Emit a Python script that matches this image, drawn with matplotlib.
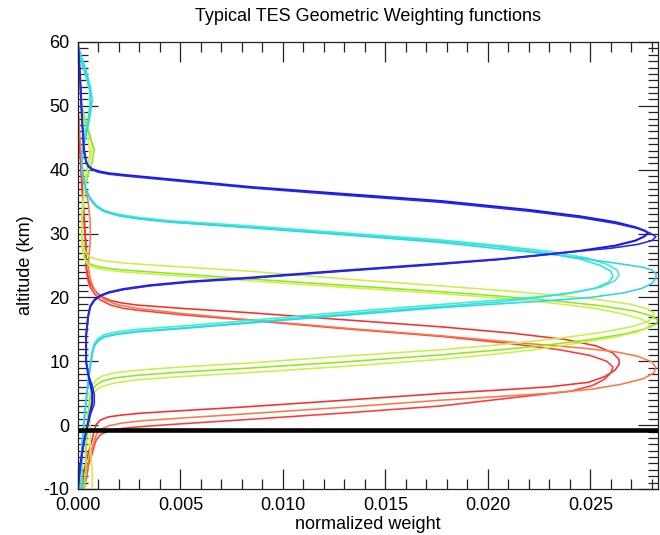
import matplotlib
matplotlib.use("Agg")
import matplotlib.pyplot as plt
from matplotlib.ticker import MultipleLocator, FormatStrFormatter

plt.rcParams["font.family"] = ["Liberation Sans", "DejaVu Sans"]
plt.rcParams["axes.unicode_minus"] = False

# Weighting functions: normalized weight (w) against altitude in km (z), sampled top to bottom

# Blue pair, peak near 30 km
blue_a_w = [0.0, 0.0001, 0.0002, 0.0003, 0.0004, 0.0005, 0.0007, 0.0010, 0.0015, 0.0022, 0.0030,
            0.0084, 0.0130, 0.0177, 0.0220, 0.0245, 0.0262, 0.0272, 0.0277, 0.0278, 0.0276, 0.0272,
            0.0262, 0.0245, 0.0225, 0.0206, 0.0177, 0.0125, 0.0080, 0.0055, 0.0035, 0.0022, 0.0015,
            0.0011, 0.0008, 0.0006, 0.0005, 0.0004, 0.0004, 0.0005, 0.0006, 0.0007, 0.0007, 0.0006,
            0.0005, 0.0003, 0.0001, 0.0]
blue_a_z = [60, 55, 48, 43, 41.3, 40.6, 40.1, 39.75, 39.45, 39.2, 38.95,
            37.3, 36.2, 35.1, 33.7, 32.7, 31.8, 31.0, 30.4, 30.0, 29.5, 28.9,
            28.1, 27.3, 26.6, 26.0, 25.3, 24.1, 23.0, 22.5, 21.9, 21.3, 20.8,
            20.3, 19.6, 18.6, 17, 14, 10, 8, 6.5, 5, 3.5, 2,
            0.5, -2.5, -6.5, -10]

blue_b_w = [0.0, 0.0001, 0.0002, 0.0003, 0.0004, 0.0005, 0.0007, 0.0010, 0.0015, 0.0022, 0.0030,
            0.0084, 0.0130, 0.0177, 0.0220, 0.0245, 0.0262, 0.0273, 0.0279, 0.0282, 0.0280, 0.0273,
            0.0260, 0.0240, 0.0222, 0.0206, 0.0177, 0.0125, 0.0080, 0.0055, 0.0035, 0.0022, 0.0015,
            0.0011, 0.0008, 0.0006, 0.0005, 0.0004, 0.0004, 0.0005, 0.0007, 0.0008, 0.0008, 0.0006,
            0.0005, 0.0003, 0.0001, 0.0]
blue_b_z = [60, 55, 48, 43, 41.2, 40.5, 40.0, 39.6, 39.3, 39.05, 38.8,
            37.15, 36.0, 34.9, 33.5, 32.5, 31.6, 30.8, 30.1, 29.5, 28.9, 28.3,
            27.7, 27.1, 26.5, 25.95, 25.2, 24.0, 22.9, 22.4, 21.8, 21.2, 20.7,
            20.2, 19.5, 18.5, 17, 14, 10, 8, 6.2, 4.8, 3.3, 1.6,
            0.2, -2.7, -6.8, -10]

# Cyan trio, peak near 23-24 km
teal_a_w = [0.0, 0.0002, 0.0004, 0.0006, 0.0006, 0.0005, 0.0003, 0.0002, 0.0002, 0.0003, 0.0004,
            0.0006, 0.0009, 0.0013, 0.0020, 0.0030, 0.0045, 0.0084, 0.0130, 0.0177, 0.0206, 0.0230,
            0.0248, 0.0258, 0.0263, 0.0264, 0.0262, 0.0255, 0.0242, 0.0225, 0.0206, 0.0177, 0.0130,
            0.0084, 0.0050, 0.0029, 0.0019, 0.0013, 0.0010, 0.0008, 0.0007, 0.0006, 0.0005, 0.0004,
            0.0003, 0.0002, 0.0001, 0.0001]
teal_a_z = [59, 57, 55, 52.5, 50.5, 48, 45, 42, 40, 38.2, 36.8,
            35.5, 34.4, 33.6, 33.0, 32.5, 32.0, 31.2, 30.1, 29.0, 28.1, 27.2,
            26.2, 25.2, 24.3, 23.5, 22.6, 21.6, 20.8, 20.1, 19.6, 18.9, 17.7,
            16.4, 15.5, 15.0, 14.6, 14.2, 13.6, 12.8, 11.5, 9.5, 7, 4,
            1, -3, -8, -10]

teal_b_w = [0.0, 0.0002, 0.0004, 0.0006, 0.0006, 0.0005, 0.0003, 0.0002, 0.0002, 0.0003, 0.0004,
            0.0006, 0.0009, 0.0013, 0.0020, 0.0030, 0.0045, 0.0084, 0.0130, 0.0177, 0.0206, 0.0228,
            0.0245, 0.0255, 0.0260, 0.0261, 0.0259, 0.0252, 0.0239, 0.0222, 0.0206, 0.0177, 0.0130,
            0.0084, 0.0050, 0.0029, 0.0019, 0.0013, 0.0010, 0.0008, 0.0007, 0.0006, 0.0005, 0.0004,
            0.0003, 0.0002, 0.0002, 0.0002]
teal_b_z = [58.5, 56.5, 54.5, 52, 50, 47.5, 44.5, 41.5, 39.7, 38.0, 36.6,
            35.3, 34.2, 33.4, 32.8, 32.3, 31.8, 31.0, 29.9, 28.8, 27.9, 27.0,
            26.0, 25.0, 24.1, 23.3, 22.4, 21.4, 20.6, 19.9, 19.3, 18.6, 17.4,
            16.1, 15.2, 14.7, 14.3, 13.9, 13.3, 12.5, 11.2, 9.2, 6.7, 3.7,
            0.7, -3.3, -8, -10]

cyan_c_w = [0.0, 0.0002, 0.0004, 0.0006, 0.0007, 0.0006, 0.0004, 0.0002, 0.0002, 0.0003, 0.0004,
            0.0006, 0.0009, 0.0013, 0.0020, 0.0030, 0.0045, 0.0084, 0.0130, 0.0177, 0.0206, 0.0235,
            0.0255, 0.0268, 0.0276, 0.0280, 0.0282, 0.0282, 0.0280, 0.0275, 0.0266, 0.0250, 0.0230,
            0.0206, 0.0177, 0.0130, 0.0084, 0.0050, 0.0029, 0.0019, 0.0013, 0.0010, 0.0008, 0.0007,
            0.0006, 0.0005, 0.0004, 0.0003, 0.0002, 0.0001, 0.0001]
cyan_c_z = [59.5, 57.5, 55.5, 53, 51, 48.5, 45.5, 42.3, 40.3, 38.4, 36.9,
            35.6, 34.3, 33.5, 32.8, 32.3, 31.8, 30.9, 29.8, 28.6, 27.6, 26.6,
            25.7, 25.1, 24.7, 24.3, 23.7, 23.0, 22.2, 21.4, 20.7, 20.0, 19.5,
            19.0, 18.4, 17.2, 16.0, 15.1, 14.6, 14.2, 13.8, 13.2, 12.4, 11.1,
            9.0, 6.5, 3.5, 0.3, -3.5, -8, -10]

# Green trio, peak near 15-17 km
ygreen_a_w = [0.0, 0.0001, 0.0002, 0.0004, 0.0006, 0.0007, 0.0006, 0.0004, 0.0003, 0.0002, 0.0002,
              0.0003, 0.0004, 0.0006, 0.0010, 0.0015, 0.0022, 0.0035, 0.0084, 0.0130, 0.0177, 0.0206,
              0.0235, 0.0255, 0.0270, 0.0278, 0.0281, 0.0281, 0.0278, 0.0270, 0.0255, 0.0235, 0.0206,
              0.0177, 0.0130, 0.0082, 0.0050, 0.0029, 0.0018, 0.0012, 0.0009, 0.0007, 0.0006, 0.0005,
              0.0004, 0.0004, 0.0003]
ygreen_a_z = [58, 54, 50, 47.5, 45.5, 43.5, 41.5, 39.5, 37, 33, 29.5,
              27.6, 26.9, 26.3, 25.9, 25.65, 25.4, 25.1, 24.1, 22.9, 21.8, 21.1,
              20.3, 19.6, 18.9, 18.2, 17.5, 16.9, 16.2, 15.4, 14.5, 13.6, 12.6,
              11.8, 10.8, 9.7, 9.1, 8.6, 8.2, 7.7, 7.1, 6.3, 5.0, 2,
              -3, -7, -10]

lime_b_w = [0.0, 0.0001, 0.0002, 0.0004, 0.0006, 0.0008, 0.0007, 0.0005, 0.0003, 0.0002, 0.0002,
            0.0003, 0.0004, 0.0006, 0.0010, 0.0015, 0.0022, 0.0035, 0.0084, 0.0130, 0.0177, 0.0206,
            0.0235, 0.0255, 0.0271, 0.0280, 0.0283, 0.0282, 0.0277, 0.0267, 0.0250, 0.0228, 0.0206,
            0.0177, 0.0130, 0.0082, 0.0050, 0.0029, 0.0018, 0.0012, 0.0009, 0.0007, 0.0006, 0.0005,
            0.0004, 0.0004, 0.0003]
lime_b_z = [57.5, 53.5, 49.5, 47, 45, 43.2, 41.2, 39.3, 36.5, 32.5, 28.5,
            26.5, 25.8, 25.2, 24.8, 24.55, 24.3, 24.0, 22.9, 21.9, 20.9, 20.2,
            19.4, 18.7, 17.9, 17.1, 16.4, 15.8, 15.1, 14.3, 13.4, 12.5, 11.8,
            11.0, 9.9, 8.9, 8.3, 7.8, 7.4, 6.9, 6.3, 5.5, 4.2, 1.5,
            -3.5, -7, -10]

ygreen_c_w = [0.0, 0.0001, 0.0002, 0.0003, 0.0005, 0.0006, 0.0005, 0.0004, 0.0003, 0.0002, 0.0002,
              0.0003, 0.0004, 0.0006, 0.0010, 0.0015, 0.0022, 0.0035, 0.0084, 0.0130, 0.0177, 0.0206,
              0.0232, 0.0252, 0.0266, 0.0275, 0.0279, 0.0278, 0.0273, 0.0262, 0.0245, 0.0225, 0.0206,
              0.0177, 0.0130, 0.0082, 0.0050, 0.0029, 0.0018, 0.0012, 0.0009, 0.0007, 0.0006, 0.0006,
              0.0006, 0.0007, 0.0007]
ygreen_c_z = [57, 53, 49, 46.5, 44.5, 42.8, 41, 39, 36, 32, 28,
              26.2, 25.5, 24.9, 24.5, 24.25, 24.0, 23.7, 22.6, 21.6, 20.6, 19.9,
              19.1, 18.3, 17.4, 16.6, 15.9, 15.3, 14.6, 13.8, 12.9, 11.9, 11.2,
              10.3, 9.2, 8.2, 7.6, 7.1, 6.6, 6.1, 5.5, 4.7, 3.2, 0.5,
              -3.5, -7, -10]

# Red/orange trio, peak near 8-10 km
red_a_w = [0.0, 0.0001, 0.0002, 0.0003, 0.0004, 0.0004, 0.0005, 0.0006, 0.0008, 0.0011, 0.0016,
           0.0022, 0.0029, 0.0050, 0.0084, 0.0130, 0.0177, 0.0212, 0.0238, 0.0253, 0.0261, 0.0264,
           0.0264, 0.0262, 0.0257, 0.0249, 0.0230, 0.0206, 0.0177, 0.0130, 0.0079, 0.0050, 0.0032,
           0.0022, 0.0015, 0.0011, 0.0009, 0.0008, 0.0007, 0.0005, 0.0003, 0.0002]
red_a_z = [50, 44, 38, 33, 28, 25, 23.2, 22.2, 21.2, 20.2, 19.5,
           19.1, 18.8, 18.3, 17.6, 16.5, 15.4, 14.4, 13.4, 12.4, 11.3, 10.3,
           9.5, 8.6, 7.6, 6.7, 6.0, 5.5, 4.95, 3.9, 2.8, 2.25, 1.9,
           1.6, 1.3, 0.8, 0.1, -0.8, -2.2, -4.5, -7.0, -10]

red_b_w = [0.0, 0.0001, 0.0002, 0.0003, 0.0004, 0.0004, 0.0005, 0.0006, 0.0008, 0.0011, 0.0016,
           0.0022, 0.0029, 0.0050, 0.0084, 0.0130, 0.0177, 0.0210, 0.0235, 0.0250, 0.0258, 0.0261,
           0.0260, 0.0257, 0.0251, 0.0240, 0.0215, 0.0177, 0.0130, 0.0079, 0.0050, 0.0032, 0.0022,
           0.0015, 0.0011, 0.0009, 0.0008, 0.0007, 0.0005, 0.0004, 0.0003]
red_b_z = [49, 43, 37, 32, 27, 24.5, 22.6, 21.6, 20.6, 19.6, 18.8,
           18.3, 18.0, 17.3, 16.4, 15.1, 13.9, 12.8, 11.8, 10.9, 10.0, 9.1,
           8.2, 7.2, 6.2, 5.3, 4.4, 3.0, 1.9, 0.8, 0.2, -0.2, -0.5,
           -0.9, -1.5, -2.3, -3.2, -4.4, -6.5, -8.5, -10]

orange_w = [0.0, 0.0001, 0.0002, 0.0003, 0.0005, 0.0006, 0.0006, 0.0005, 0.0006, 0.0007, 0.0009,
            0.0013, 0.0020, 0.0029, 0.0050, 0.0084, 0.0130, 0.0177, 0.0215, 0.0245, 0.0262, 0.0273,
            0.0280, 0.0282, 0.0281, 0.0276, 0.0265, 0.0250, 0.0230, 0.0206, 0.0177, 0.0130, 0.0079,
            0.0050, 0.0032, 0.0022, 0.0015, 0.0011, 0.0009, 0.0008, 0.0006, 0.0004, 0.0003]
orange_z = [50, 45, 41, 38, 35, 32, 28.5, 25, 23, 22.0, 20.7,
            19.6, 18.8, 18.3, 17.5, 16.5, 15.2, 14.0, 12.9, 12.1, 11.5, 10.8,
            9.9, 9.0, 8.2, 7.3, 6.4, 5.6, 5.0, 4.5, 3.9, 2.8, 1.7,
            1.1, 0.7, 0.35, -0.1, -0.7, -1.5, -2.5, -4.5, -7.5, -10]

curves = [
    (red_a_w, red_a_z, "#ff2b2b", 1.15),
    (red_b_w, red_b_z, "#ff3a3a", 1.15),
    (orange_w, orange_z, "#ff7648", 1.15),
    (ygreen_a_w, ygreen_a_z, "#c8f04a", 1.15),
    (lime_b_w, lime_b_z, "#8ee81e", 1.15),
    (ygreen_c_w, ygreen_c_z, "#cdf046", 1.15),
    (teal_a_w, teal_a_z, "#3cf0c2", 1.15),
    (teal_b_w, teal_b_z, "#30e4dc", 1.15),
    (cyan_c_w, cyan_c_z, "#2ed2f2", 1.15),
    (blue_a_w, blue_a_z, "#1616f2", 1.5),
    (blue_b_w, blue_b_z, "#2a2ae6", 1.15),
]

surface_altitude = -0.75

fig = plt.figure(figsize=(6.6, 5.35), dpi=100)
ax = fig.add_axes([0.118, 0.086, 0.879, 0.8355])

for w, z, color, lw in curves:
    ax.plot(w, z, color=color, lw=lw, solid_joinstyle="round", solid_capstyle="round")

ax.axhline(surface_altitude, color="black", lw=3.3)

ax.set_xlim(0.0, 0.0283)
ax.set_ylim(-10, 60)

ax.xaxis.set_major_locator(MultipleLocator(0.005))
ax.xaxis.set_minor_locator(MultipleLocator(0.001))
ax.xaxis.set_major_formatter(FormatStrFormatter("%.3f"))
ax.yaxis.set_major_locator(MultipleLocator(10))
ax.yaxis.set_minor_locator(MultipleLocator(1))

ax.tick_params(which="both", direction="in", top=True, right=True, colors="#222222",
               labelcolor="black", labelsize=13, width=0.9)
ax.tick_params(which="major", length=14.4, pad=6)
ax.tick_params(which="minor", length=7.2)
for s in ax.spines.values():
    s.set_linewidth(0.9)
    s.set_color("#222222")

ax.set_title("Typical TES Geometric Weighting functions", fontsize=13, pad=15)
ax.set_xlabel("normalized weight", fontsize=13, labelpad=1)
ax.set_ylabel("altitude (km)", fontsize=13, labelpad=7)

fig.savefig("out.png", dpi=100)
